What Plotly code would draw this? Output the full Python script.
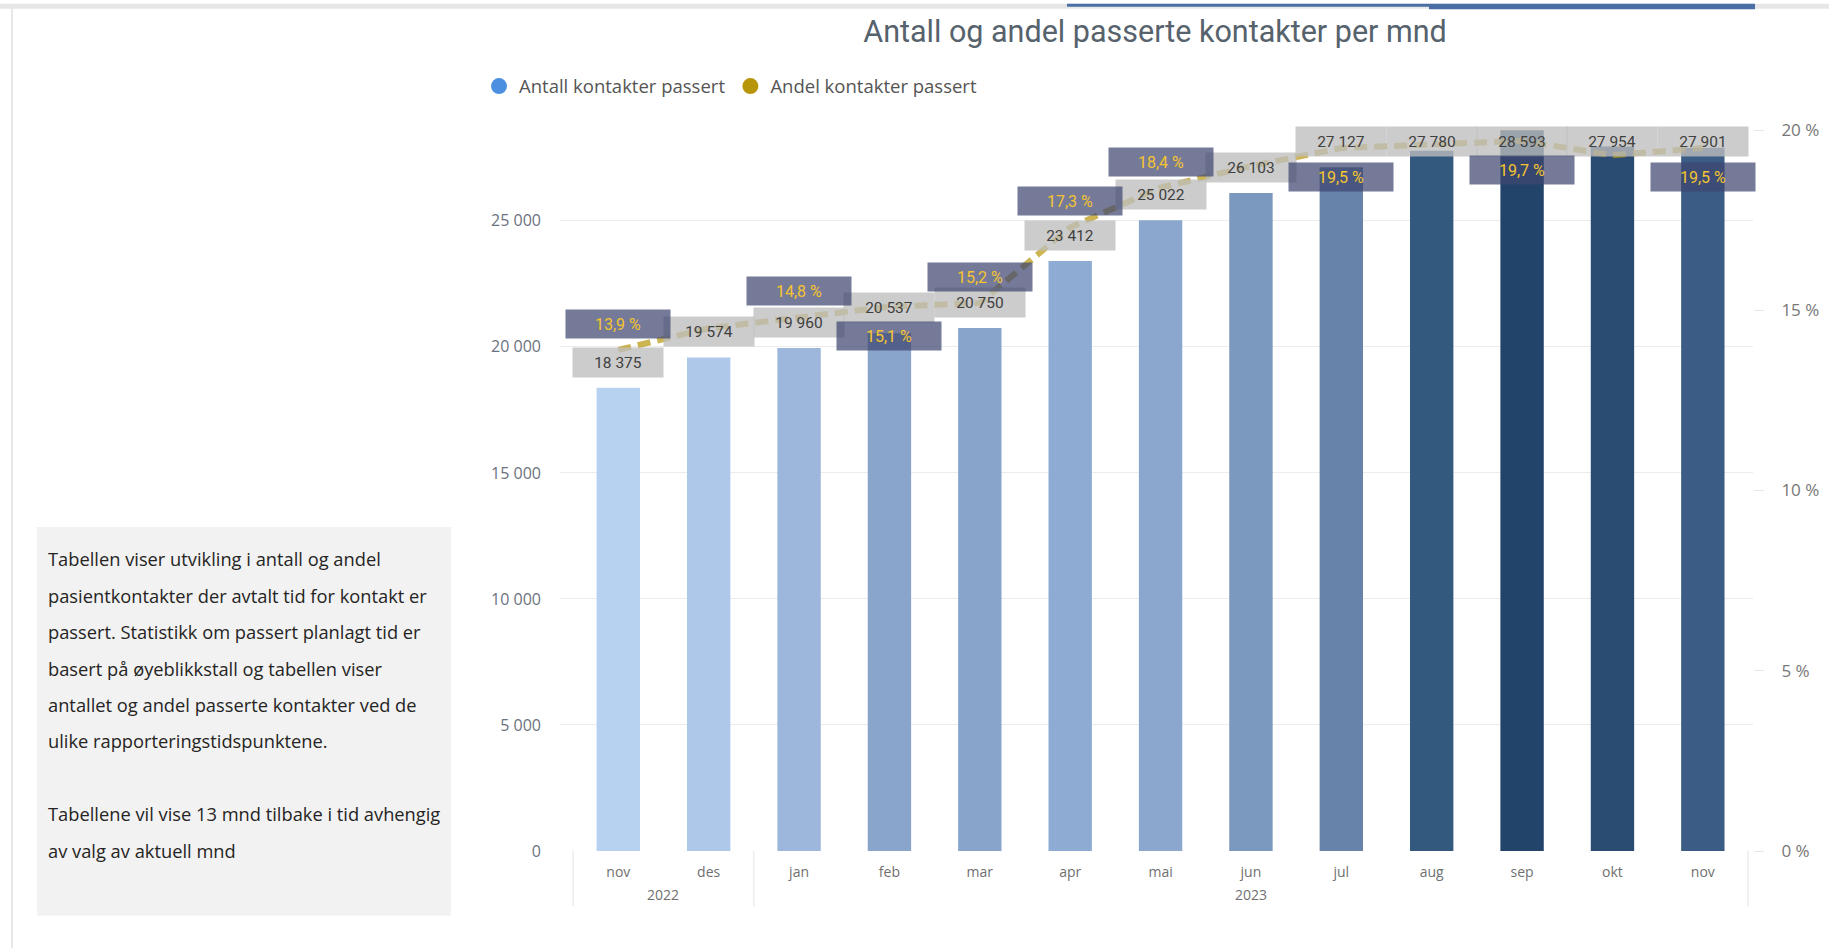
"""Antall og andel passerte kontakter per mnd - combo chart (bars + line on secondary axis)."""

import plotly.graph_objects as go

# --- data -------------------------------------------------------------------
months = ["nov", "des", "jan", "feb", "mar", "apr", "mai", "jun", "jul", "aug", "sep", "okt", "nov"]
years = ["2022", "2022", "2023", "2023", "2023", "2023", "2023", "2023", "2023", "2023", "2023", "2023", "2023"]
antall = [18375, 19574, 19960, 20537, 20750, 23412, 25022, 26103, 27127, 27780, 28593, 27954, 27901]
andel = [13.9, 14.5, 14.8, 15.1, 15.2, 17.3, 18.4, 19.0, 19.5, 19.6, 19.7, 19.3, 19.5]
# where Power BI put the percentage label (None = hidden because of overlap)
andel_label_pos = ["over", None, "over", "under", "over", "over", "over", None, "under", None, "under", None, "under"]
bar_colors = [
    "#b7d1f0", "#aec8ea", "#9cb6dc", "#8aa5cb", "#89a4cb", "#8eabd4", "#8ba7cd",
    "#7b98bf", "#6783a9", "#34597f", "#22446a", "#2a4b72", "#3b5c84",
]
count_ticks = [0, 5000, 10000, 15000, 20000, 25000]
pct_ticks = [0, 5, 10, 15, 20]
info_lines = [
    "Tabellen viser utvikling i antall og andel",
    "pasientkontakter der avtalt tid for kontakt er",
    "passert. Statistikk om passert planlagt tid er",
    "basert på øyeblikkstall og tabellen viser",
    "antallet og andel passerte kontakter ved de",
    "ulike rapporteringstidspunktene.",
    "",
    "Tabellene vil vise 13 mnd tilbake i tid avhengig",
    "av valg av aktuell mnd",
]

# --- geometry (pixels of the 1829x949 page) --------------------------------
W_FIG, H_FIG = 1829, 949
L, R, T, B = 560, 1753, 122.5, 851.5
PW, PH = R - L, B - T
YMAX = 28882
PCT_PER_COUNT = 20 / 28604          # 20 % lines up with 28 604 on the left axis
LABEL_CAP = 28142                   # count labels can't go higher than this
LABEL_LIFT = 1017                   # count label centre sits this far above bar top


def px_x(p):
    return (p - L) / PW


def px_y(p):
    return (B - p) / PH


def fmt_int(v):
    return f"{v:,}".replace(",", " ")


def fmt_pct(v):
    return f"{v:.1f} %".replace(".", ",")


idx = list(range(len(months)))

fig = go.Figure()
fig.add_bar(x=idx, y=antall, marker_color=bar_colors, marker_line_width=0, width=0.48,
            showlegend=False, hoverinfo="skip")
fig.add_trace(go.Scatter(
    x=idx, y=andel, yaxis="y2", mode="lines", showlegend=False, hoverinfo="skip",
    line=dict(color="rgba(184,150,12,0.7)", width=6, dash="13px,7px"),
))
# legend entries (Power BI draws circles)
fig.add_trace(go.Scatter(x=[None], y=[None], mode="markers", name="Antall kontakter passert",
                         marker=dict(symbol="circle", size=18, color="#4a8fe0")))
fig.add_trace(go.Scatter(x=[None], y=[None], mode="markers", name="Andel kontakter passert",
                         marker=dict(symbol="circle", size=18, color="#b8960c")))

annotations = []
# count labels
for i, v in zip(idx, antall):
    annotations.append(dict(
        x=i, y=min(v + LABEL_LIFT, LABEL_CAP), xref="x", yref="y", text=fmt_int(v),
        showarrow=False, bgcolor="rgba(190,190,190,0.78)", width=90, height=29, borderpad=0,
        font=dict(family="Roboto", size=15.5, color="#404040"), yanchor="middle",
    ))
# percentage labels
for i, p, pos in zip(idx, andel, andel_label_pos):
    if pos is None:
        continue
    annotations.append(dict(
        x=i, y=p, xref="x", yref="y2", text=fmt_pct(p), showarrow=False,
        yshift=26 if pos == "over" else -29,
        bgcolor="rgba(62,70,112,0.72)", width=104, height=28, borderpad=0,
        font=dict(family="Roboto", size=16, color="#f4c430"), yanchor="middle",
    ))
# year labels under the month labels
groups = []
for i, yv in enumerate(years):
    if groups and groups[-1][0] == yv:
        groups[-1][2] = i
    else:
        groups.append([yv, i, i])
for yv, a, b in groups:
    annotations.append(dict(
        x=(a + b) / 2, y=px_y(895), xref="x", yref="paper", text=yv, showarrow=False,
        font=dict(size=14, color="#707070"), yanchor="middle",
    ))
# info text box
for k, line in enumerate(info_lines):
    if not line:
        continue
    annotations.append(dict(
        x=px_x(46), y=px_y(558.8 + k * 36.5), xref="paper", yref="paper", text=line,
        showarrow=False, xanchor="left", yanchor="middle",
        font=dict(family="Open Sans", size=18.3, color="#252423"),
    ))

shapes = []
# year dividers
bounds = [groups[0][1] - 0.5] + [b + 0.5 for _, _, b in groups]
for xb in bounds:
    shapes.append(dict(type="line", xref="x", yref="paper", x0=xb, x1=xb, y0=0, y1=px_y(907),
                       line=dict(color="#e3e3e3", width=1)))
# info box background
shapes.append(dict(type="rect", xref="paper", yref="paper", x0=px_x(37), x1=px_x(451),
                   y0=px_y(916), y1=px_y(527), fillcolor="#f2f2f2", line_width=0, layer="below"))
# page frame decorations
shapes.append(dict(type="rect", xref="paper", yref="paper", x0=px_x(0), x1=px_x(W_FIG),
                   y0=px_y(8), y1=px_y(3), fillcolor="#e6e6e6", line_width=0, layer="below"))
shapes.append(dict(type="rect", xref="paper", yref="paper", x0=px_x(11), x1=px_x(13),
                   y0=px_y(H_FIG), y1=px_y(3), fillcolor="#e8e8e8", line_width=0, layer="below"))
shapes.append(dict(type="rect", xref="paper", yref="paper", x0=px_x(1067), x1=px_x(1429),
                   y0=px_y(6), y1=px_y(3), fillcolor="#4a6fa5", line_width=0, layer="below"))
shapes.append(dict(type="rect", xref="paper", yref="paper", x0=px_x(1429), x1=px_x(1755),
                   y0=px_y(8.5), y1=px_y(3), fillcolor="#4a6fa5", line_width=0, layer="below"))

fig.update_layout(
    width=W_FIG, height=H_FIG,
    margin=dict(l=L, r=W_FIG - R, t=T, b=H_FIG - B, autoexpand=False),
    paper_bgcolor="white", plot_bgcolor="white",
    separators=", ",
    font=dict(family="Open Sans", color="#666666"),
    title=dict(text="Antall og andel passerte kontakter per mnd", x=1155 / W_FIG, xanchor="center",
               y=1 - 31.5 / H_FIG, yanchor="middle",
               font=dict(family="Roboto", size=30.5, color="#56626c")),
    legend=dict(orientation="h", x=px_x(479), y=px_y(86), xanchor="left", yanchor="middle",
                font=dict(family="Open Sans", size=18.5, color="#555555"), itemclick=False,
                bgcolor="rgba(0,0,0,0)", tracegroupgap=0),
    xaxis=dict(range=[-0.645, 12.555], tickvals=idx, ticktext=months, showgrid=False,
               zeroline=False, showline=False, ticks="", ticklabelstandoff=11,
               tickfont=dict(size=14, color="#707070")),
    yaxis=dict(range=[0, YMAX], tickvals=count_ticks, ticktext=[fmt_int(v) for v in count_ticks],
               gridcolor="#ececec", zeroline=False, showline=False, ticklabelstandoff=18,
               tickfont=dict(size=16, color="#6b7280")),
    yaxis2=dict(range=[0, YMAX * PCT_PER_COUNT], overlaying="y", side="right",
                tickvals=pct_ticks, ticktext=[f"{v} %" for v in pct_ticks], showgrid=False,
                zeroline=False, ticks="outside", ticklen=10, tickcolor="#e6e6e6",
                ticklabelstandoff=14, tickfont=dict(size=17, color="#777777")),
    annotations=annotations,
    shapes=shapes,
    bargap=0.52,
)

# the page is photographed edge to edge, so drop the browser's default body margin
fig.write_html("out.html", config={"displayModeBar": False},
               post_script="document.body.style.margin='0';")
